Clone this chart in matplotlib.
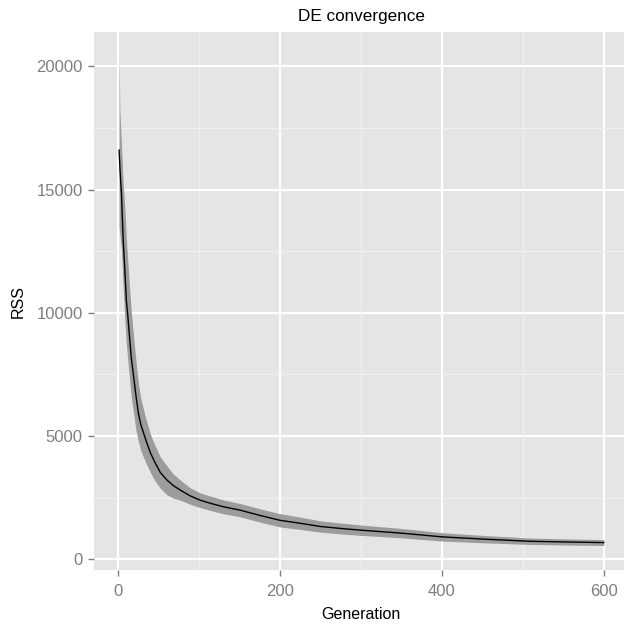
import numpy as np
import matplotlib
matplotlib.use("Agg")
import matplotlib.pyplot as plt
from matplotlib.ticker import MultipleLocator

plt.rcParams['font.family'] = ['Liberation Sans', 'DejaVu Sans']

# values
generation = [1, 2, 4, 6, 8, 10, 12, 14, 16, 19,
              22, 25, 28, 31, 35, 40, 45, 52, 60, 68,
              78, 89, 101, 114, 130, 151, 175, 200, 225, 250,
              275, 300, 350, 400, 450, 509, 550, 600]
rss_mean = [16600, 15900, 14800, 13000, 11800, 10500, 9800, 9000, 8200, 7400,
            6600, 5900, 5450, 5150, 4750, 4300, 3950, 3520, 3220, 2990,
            2780, 2570, 2400, 2270, 2130, 1990, 1780, 1580, 1460, 1330,
            1250, 1180, 1060, 910, 820, 730, 705, 677]
rss_upper = [20400, 18200, 16800, 15300, 14300, 13000, 12000, 11000, 10100, 9000,
             8000, 7100, 6500, 6100, 5600, 5050, 4650, 4150, 3800, 3460,
             3180, 2900, 2700, 2560, 2410, 2260, 2050, 1850, 1710, 1560,
             1470, 1390, 1250, 1080, 970, 860, 830, 797]
rss_lower = [13500, 13200, 12500, 11000, 9800, 8700, 8000, 7300, 6600, 5900,
             5200, 4750, 4400, 4150, 3850, 3500, 3200, 2880, 2620, 2480,
             2380, 2230, 2100, 1980, 1850, 1720, 1510, 1310, 1210, 1100,
             1030, 970, 870, 740, 670, 600, 580, 557]

fig = plt.figure(figsize=(6.24, 6.25), dpi=100)
# panel runs a little past the right edge, like the reference
ax = fig.add_axes([94 / 624, 55 / 625, 534 / 624, 538 / 625])
ax.set_facecolor('#E5E5E5')

ax.fill_between(generation, rss_lower, rss_upper, color='#9C9C9C', lw=0, zorder=2)
ax.plot(generation, rss_mean, color='black', lw=1.0, zorder=3)

# ggplot-like 5% expansion
xr = max(generation) - 0
ax.set_xlim(0 - 0.05 * xr, max(generation) + 0.05 * xr)
ymin, ymax = min(rss_lower), max(rss_upper)
yr = ymax - ymin
ax.set_ylim(ymin - 0.05 * yr, ymax + 0.05 * yr)

ax.xaxis.set_major_locator(MultipleLocator(200))
ax.xaxis.set_minor_locator(MultipleLocator(100))
ax.yaxis.set_major_locator(MultipleLocator(5000))
ax.yaxis.set_minor_locator(MultipleLocator(2500))

ax.grid(which='major', color='white', lw=1.5, zorder=1)
ax.grid(which='minor', color='#F2F2F2', lw=0.7, zorder=1)
ax.set_axisbelow(True)
for s in ax.spines.values():
    s.set_visible(False)

ax.tick_params(which='major', length=4, width=1.0, color='#7F7F7F',
               labelcolor='#7F7F7F', labelsize=12)
ax.tick_params(axis='x', pad=6)
ax.tick_params(axis='y', pad=4)
ax.tick_params(which='minor', length=0)

ax.set_xlabel('Generation', fontsize=11.5, labelpad=6)
ax.set_ylabel('RSS', fontsize=11.5, labelpad=8)
ax.set_title('DE convergence', fontsize=12.3, pad=8)

fig.savefig('out.png', dpi=100)
